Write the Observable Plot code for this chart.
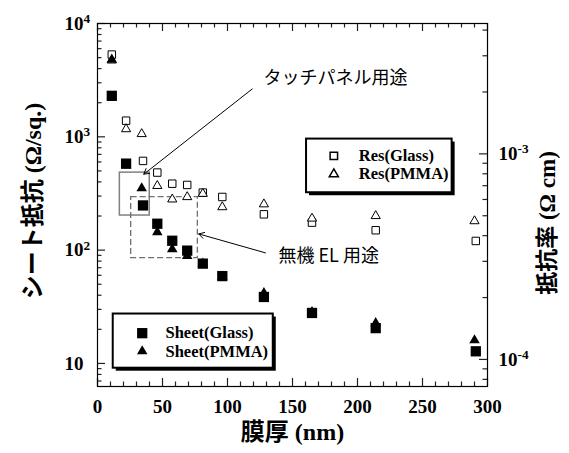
<!DOCTYPE html>
<html><head><meta charset="utf-8">
<script src="https://cdn.jsdelivr.net/npm/d3@7"></script>
<script src="https://cdn.jsdelivr.net/npm/@observablehq/plot@0.6"></script>
<style>
body{margin:0;background:#fff}
#chart{position:absolute;left:0;top:0}
</style>
</head><body><div id="chart"></div>
<script>
// ---- data (thickness in nm, sheet resistance in Ω/sq., resistivity in Ω cm) ----
const thickGlass = [11, 22, 35, 46, 57.5, 69, 81, 96, 128, 165, 214, 291];
const thickPMMA  = [11, 22, 34, 46, 57.5, 69, 81, 96, 128, 165, 214, 290];
const sheetGlass = [2300, 580, 248, 171, 121, 99, 76, 59, 38.6, 27.9, 20.5, 12.8];
const sheetPMMA  = [4800, 560, 351, 144, 102, 89, 76, 58, 41.9, 28.4, 22.7, 16.0];
const resGlass   = [3.04e-3, 1.45e-3, 9.24e-4, 8.11e-4, 7.16e-4, 7.06e-4, 6.48e-4, 6.17e-4, 5.08e-4, 4.63e-4, 4.25e-4, 3.77e-4];
const resPMMA    = [2.85e-3, 1.32e-3, 1.25e-3, 6.99e-4, 6.01e-4, 6.17e-4, 6.40e-4, 5.51e-4, 5.69e-4, 4.85e-4, 4.99e-4, 4.71e-4];

// ticks
const xMajor = [0, 50, 100, 150, 200, 250, 300];
const xMinor = d3.range(10, 300, 10).filter(v => v % 50 !== 0);
const leftMajor = [10, 100, 1000, 10000];
const leftMinor = [7, 8, 9, 20, 30, 40, 50, 60, 70, 80, 90, 200, 300, 400, 500, 600, 700, 800, 900, 2000, 3000, 4000, 5000, 6000, 7000, 8000, 9000];
const leftLabels = ["10", "10^2", "10^3", "10^4"];
const rightMajor = [1e-4, 1e-3];
const rightMinor = [8e-5, 9e-5, 2e-4, 3e-4, 4e-4, 5e-4, 6e-4, 7e-4, 8e-4, 9e-4, 2e-3, 3e-3, 4e-3];
const rightLabels = ["10^-4", "10^-3"];

// texts
const xTitle = "膜厚 (nm)";
const yTitle = "シート抵抗 (Ω/sq.)";
const y2Title = "抵抗率 (Ω cm)";
const legendResNames = ["Res(Glass)", "Res(PMMA)"];
const legendSheetNames = ["Sheet(Glass)", "Sheet(PMMA)"];
const noteTouch = "タッチパネル用途";
const noteEL = "無機 EL 用途";

// right axis (resistivity) relation to left axis: log10(Rs) = A + B*(log10(rho)+3)
const A = 2.8496, B = 1.8142;
const toLeft = rho => Math.pow(10, A + B * (Math.log10(rho) + 3));

// annotation & legend layout (data units)
const touchBox = {x1: 17.2, x2: 40.2, y1: 202, y2: 483};
const elBox = {x1: 25.9, x2: 77.2, y1: 85, y2: 294};
const touchArrow = {x1: 119, y1: 2643, x2: 35.6, y2: 468};
const elArrow = {x1: 129.2, y1: 94.6, x2: 77.9, y2: 139};
const touchText = {x: 127.7, y: 3260};
const elText = {x: 139.2, y: 88.5};
const legRes = {x1: 160.8, x2: 272.8, y1: 321, y2: 955, sx: 181.8, tx: 201, rows: [679, 468]};
const legSheet = {x1: 12.1, x2: 135.2, y1: 9.08, y2: 27.3, sx: 34.4, tx: 52.3, rows: [18.5, 12.8]};

const serif = '"Liberation Serif", "Times New Roman", "Noto Sans CJK JP", serif';
const titleFont = '"Liberation Serif", "Noto Sans CJK JP", serif';
const sans = '"Noto Sans CJK JP", sans-serif';

const sg = thickGlass.map((t, i) => ({t, v: sheetGlass[i]}));
const sp = thickPMMA.map((t, i) => ({t, v: sheetPMMA[i]}));
const rg = thickGlass.map((t, i) => ({t, v: toLeft(resGlass[i])}));
const rp = thickPMMA.map((t, i) => ({t, v: toLeft(resPMMA[i])}));

const W = 569, H = 453, ML = 97, MR = 82, MT = 23, MB = 67;
const FW = W - ML - MR, FH = H - MT - MB;
const MJ = 8, MN = 4.5;
const lbl = {fontFamily: serif, fontWeight: "bold", fontSize: 19};
const tk = {stroke: "#222", strokeWidth: 1.2};

const chart = Plot.plot({
  width: W, height: H,
  marginLeft: ML, marginRight: MR, marginTop: MT, marginBottom: MB,
  x: {domain: [0, 300], axis: null},
  y: {type: "log", domain: [6.26, 10000], axis: null},
  style: {background: "white", overflow: "visible"},
  marks: [
    // annotation boxes
    Plot.rect([touchBox], {x1: "x1", x2: "x2", y1: "y1", y2: "y2", fill: "none", stroke: "#808080", strokeWidth: 1.5}),
    Plot.rect([elBox], {x1: "x1", x2: "x2", y1: "y1", y2: "y2", fill: "none", stroke: "#707070", strokeWidth: 1.3, strokeDasharray: "6,3"}),
    Plot.arrow([touchArrow], {x1: "x1", y1: "y1", x2: "x2", y2: "y2", stroke: "black", strokeWidth: 1, headLength: 9}),
    Plot.arrow([elArrow], {x1: "x1", y1: "y1", x2: "x2", y2: "y2", stroke: "black", strokeWidth: 1, headLength: 9}),
    Plot.text([touchText], {x: "x", y: "y", text: () => noteTouch, textAnchor: "start", fontFamily: sans, fontSize: 18}),
    Plot.text([elText], {x: "x", y: "y", text: () => noteEL, textAnchor: "start", fontFamily: sans, fontSize: 18}),
    // data
    Plot.dot(rg, {x: "t", y: "v", symbol: "square", r: 4.2, stroke: "black", strokeWidth: 1, fill: "white"}),
    Plot.dot(rp, {x: "t", y: "v", symbol: "triangle", r: 3.4, stroke: "black", strokeWidth: 1, fill: "white"}),
    Plot.dot(sp, {x: "t", y: "v", symbol: "triangle", r: 3.9, fill: "black", stroke: "none"}),
    Plot.dot(sg, {x: "t", y: "v", symbol: "square", r: 5.8, fill: "black", stroke: "none"}),
    // legend: Res
    Plot.rect([legRes], {x1: "x1", x2: "x2", y1: "y1", y2: "y2", fill: "black", dx: 3, dy: 3}),
    Plot.rect([legRes], {x1: "x1", x2: "x2", y1: "y1", y2: "y2", fill: "white", stroke: "black", strokeWidth: 2}),
    Plot.dot([legRes.rows[0]], {x: () => legRes.sx, y: d => d, symbol: "square", r: 4.2, stroke: "black", fill: "white"}),
    Plot.dot([legRes.rows[1]], {x: () => legRes.sx, y: d => d, symbol: "triangle", r: 3.4, stroke: "black", fill: "white"}),
    Plot.text(legRes.rows, {x: () => legRes.tx, y: d => d, text: (d, i) => legendResNames[i], textAnchor: "start", fontFamily: serif, fontWeight: "bold", fontSize: 16.5}),
    // legend: Sheet
    Plot.rect([legSheet], {x1: "x1", x2: "x2", y1: "y1", y2: "y2", fill: "black", dx: 3, dy: 3}),
    Plot.rect([legSheet], {x1: "x1", x2: "x2", y1: "y1", y2: "y2", fill: "white", stroke: "black", strokeWidth: 2}),
    Plot.dot([legSheet.rows[0]], {x: () => legSheet.sx, y: d => d, symbol: "square", r: 5.8, fill: "black"}),
    Plot.dot([legSheet.rows[1]], {x: () => legSheet.sx, y: d => d, symbol: "triangle", r: 3.9, fill: "black"}),
    Plot.text(legSheet.rows, {x: () => legSheet.tx, y: d => d, text: (d, i) => legendSheetNames[i], textAnchor: "start", fontFamily: serif, fontWeight: "bold", fontSize: 16.5}),
    // inward ticks
    Plot.ruleX(xMajor, {x: d => d, insetTop: FH - MJ, ...tk}),
    Plot.ruleX(xMinor, {x: d => d, insetTop: FH - MN, ...tk}),
    Plot.ruleX(xMajor, {x: d => d, insetBottom: FH - MJ, ...tk}),
    Plot.ruleX(xMinor, {x: d => d, insetBottom: FH - MN, ...tk}),
    Plot.ruleY(leftMajor, {y: d => d, insetRight: FW - MJ, ...tk}),
    Plot.ruleY(leftMinor, {y: d => d, insetRight: FW - MN, ...tk}),
    Plot.ruleY(rightMajor, {y: d => toLeft(d), insetLeft: FW - MJ, ...tk}),
    Plot.ruleY(rightMinor, {y: d => toLeft(d), insetLeft: FW - MN, ...tk}),
    Plot.frame({stroke: "black", strokeWidth: 1.2}),
    // tick labels
    Plot.text(xMajor, {x: d => d, frameAnchor: "bottom", dy: 26, text: d => String(d), ...lbl}),
    Plot.text(leftMajor, {y: d => d, frameAnchor: "left", dx: -33, textAnchor: "start", text: (d, i) => leftLabels[i], ...lbl}),
    Plot.text(rightMajor, {y: d => toLeft(d), frameAnchor: "right", dx: 11, textAnchor: "start", text: (d, i) => rightLabels[i], ...lbl}),
    // titles
    Plot.text([xTitle], {frameAnchor: "bottom", dy: 53, textAnchor: "middle", text: d => d, fontFamily: titleFont, fontWeight: "bold", fontSize: 24}),
    Plot.text([yTitle], {frameAnchor: "left", dx: -64, dy: -4, rotate: -90, textAnchor: "middle", text: d => d, fontFamily: titleFont, fontWeight: "bold", fontSize: 24}),
    Plot.text([y2Title], {frameAnchor: "right", dx: 60, dy: 18, rotate: -90, textAnchor: "middle", text: d => d, fontFamily: titleFont, fontWeight: "bold", fontSize: 23})
  ]
});

// render exponents as superscripts
const NS = "http://www.w3.org/2000/svg";
chart.querySelectorAll("text").forEach(t => {
  const m = (t.textContent || "").match(/^10\^(.+)$/);
  if (m && t.children.length === 0) {
    t.textContent = "10";
    const ts = document.createElementNS(NS, "tspan");
    ts.setAttribute("dy", "-0.5em");
    ts.setAttribute("font-size", "0.7em");
    ts.textContent = m[1];
    t.appendChild(ts);
  }
});
document.getElementById("chart").appendChild(chart);
</script>
</body></html>
